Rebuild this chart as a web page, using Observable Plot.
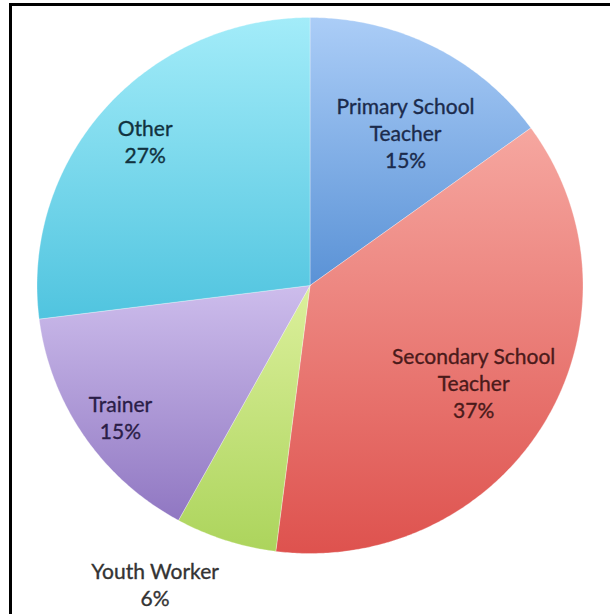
<!DOCTYPE html>
<html>
<head>
<meta charset="utf-8">
<script src="https://cdn.jsdelivr.net/npm/d3@7"></script>
<script src="https://cdn.jsdelivr.net/npm/@observablehq/plot@0.6"></script>
<style>
  body { margin: 0; background: #fff; }
  #wrap { position: relative; width: 610px; height: 614px; overflow: hidden; background: #fff; }
  #frame { position: absolute; left: 9px; top: 3px; width: 800px; height: 800px;
           border-top: 3px solid #000; border-left: 3px solid #000; box-sizing: border-box; pointer-events: none; }
</style>
</head>
<body>
<div id="wrap"><div id="chart"></div><div id="frame"></div></div>
<script>
// ---- data ----
const categories = ["Primary School Teacher", "Secondary School Teacher", "Youth Worker", "Trainer", "Other"];
const labelLines = ["Primary School\nTeacher", "Secondary School\nTeacher", "Youth Worker", "Trainer", "Other"];
const values = [15, 37, 6, 15, 27];
const percentLabels = ["15%", "37%", "6%", "15%", "27%"];

// ---- styles ----
const topColors    = ["#abcdf7", "#f6a7a0", "#dcf09c", "#cdbdec", "#a3ecf9"];
const bottomColors = ["#5a92d6", "#de524e", "#acd45c", "#9077c2", "#50c4df"];
const textColors   = ["#1b2b4c", "#4a1a1a", "#333333", "#2a1d47", "#11323f"];
// label placement: radial fraction of radius and small angular nudge (degrees)
const labelRadius = [0.67, 0.70, 1.25, 0.85, 0.81];
const labelNudge  = [4.5, 0.5, 9, -1, 0.4];

const W = 610, H = 614, CX = 309.5, CY = 285, RX = 273, RY = 268;

const arcs = d3.pie().sort(null)(values);
const slices = arcs.map((p, i) => {
  const pts = [{x: 0, y: 0}];
  const n = Math.max(2, Math.ceil((p.endAngle - p.startAngle) / (Math.PI / 360)));
  for (let k = 0; k <= n; k++) {
    const a = p.startAngle + (p.endAngle - p.startAngle) * k / n;
    pts.push({x: Math.sin(a), y: -Math.cos(a)});
  }
  pts.push({x: 0, y: 0});
  return pts;
});

const labels = arcs.map((p, i) => {
  const a = (p.startAngle + p.endAngle) / 2 + labelNudge[i] * Math.PI / 180;
  return {
    x: labelRadius[i] * Math.sin(a),
    y: -labelRadius[i] * Math.cos(a),
    text: labelLines[i] + "\n" + percentLabels[i],
    color: textColors[i]
  };
});

const svg = Plot.plot({
  width: W,
  height: H,
  margin: 0,
  style: {background: "transparent"},
  x: {domain: [-CX / RX, (W - CX) / RX], range: [0, W], axis: null},
  y: {domain: [-CY / RY, (H - CY) / RY], range: [0, H], axis: null},
  color: {type: "identity"},
  marks: [
    ...slices.map((pts, i) => Plot.line(pts, {
      x: "x", y: "y", fill: `url(#grad${i})`,
      stroke: "#ffffff", strokeOpacity: 0.3, strokeWidth: 1
    })),
    Plot.text(labels, {
      x: "x", y: "y", text: "text", fill: "color",
      fontSize: 21, fontFamily: "Lato", lineHeight: 1.29, textAnchor: "middle",
      stroke: "color", strokeWidth: 0.35
    })
  ]
});

const defs = d3.select(svg).insert("defs", ":first-child");
topColors.forEach((c, i) => {
  const g = defs.append("linearGradient").attr("id", `grad${i}`)
    .attr("x1", 0).attr("y1", 0).attr("x2", 0).attr("y2", 1);
  g.append("stop").attr("offset", "0%").attr("stop-color", c);
  g.append("stop").attr("offset", "100%").attr("stop-color", bottomColors[i]);
});

document.getElementById("chart").appendChild(svg);
</script>
</body>
</html>
